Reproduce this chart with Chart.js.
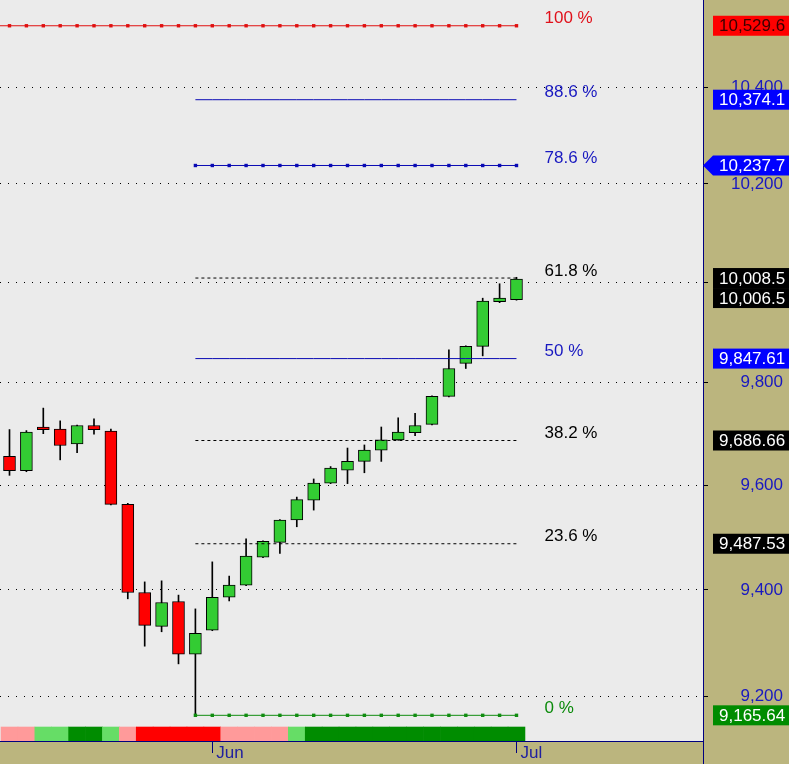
<!DOCTYPE html>
<html>
<head>
<meta charset="utf-8">
<script src="https://cdn.jsdelivr.net/npm/chart.js@4.4.0/dist/chart.umd.min.js"></script>
<style>
  html, body { margin: 0; padding: 0; background: #bbb57e; }
  canvas { display: block; }
</style>
</head>
<body>
<canvas id="myChart" width="789" height="764"></canvas>
<script>
// daily candles, one per trading day (index 12 = first day of Jun, 30 = Jul)
const opens  = [9656, 9628, 9713, 9709, 9680, 9716, 9705, 9563, 9395, 9331, 9378, 9279, 9324, 9386, 9409, 9462,
                9490, 9533, 9571, 9604, 9629, 9646, 9668, 9688, 9702, 9718, 9773, 9838, 9872, 9961, 9965];
const highs  = [9708, 9706, 9750, 9725, 9717, 9729, 9709, 9565, 9415, 9417, 9390, 9364, 9453, 9426, 9497, 9493,
                9534, 9577, 9612, 9636, 9672, 9678, 9713, 9731, 9740, 9774, 9865, 9873, 9968, 9997, 10010];
const lows   = [9619, 9626, 9700, 9649, 9663, 9699, 9562, 9383, 9294, 9321, 9261, 9165.64, 9323, 9379, 9408, 9461,
                9469, 9520, 9552, 9603, 9603, 9624, 9646, 9687, 9696, 9717, 9772, 9828, 9853, 9959, 9964];
const closes = [9628, 9703, 9708, 9677, 9716, 9708, 9563, 9395, 9333, 9376, 9279, 9318, 9386, 9409, 9464, 9492,
                9533, 9572, 9604, 9633, 9646, 9668, 9688, 9703, 9716, 9773, 9828, 9872, 9962, 9968, 10006.5];

// indicator strip under the candles
const bandState = ["pink", "pink", "lgreen", "lgreen", "dgreen", "dgreen", "lgreen", "pink", "red", "red", "red",
                   "red", "red", "pink", "pink", "pink", "pink", "lgreen", "dgreen", "dgreen", "dgreen", "dgreen",
                   "dgreen", "dgreen", "dgreen", "dgreen", "dgreen", "dgreen", "dgreen", "dgreen", "dgreen"];

const monthTicks  = [12, 30];
const monthLabels = ["Jun", "Jul"];
const yTicks = [9200, 9400, 9600, 9800, 10000, 10200, 10400];

// fibonacci retracement from the swing low (candle 11)
const swingLowIndex = 11;
const fibRatios = ["100 %", "88.6 %", "78.6 %", "61.8 %", "50 %", "38.2 %", "23.6 %", "0 %"];
const fibLevels = [10529.6, 10374.1, 10237.7, 10008.5, 9847.61, 9686.66, 9487.53, 9165.64];

const RED = "#ff0000", GREEN = "#33cc33";
const BLUE = "#0a0ab4", TXTBLUE = "#1818c0";
const bandColors = { pink: "#ff9a9a", lgreen: "#66dd66", dgreen: "#008c00", red: "#ff0000" };
const fibStyle = [
  { line: "#e01010", text: "#e0101a", dash: [], marks: true, box: "#ff0000", boxText: "#3a0000" },
  { line: BLUE, text: TXTBLUE, dash: [], marks: false, box: "#0000ff", boxText: "#ffffff" },
  { line: BLUE, text: TXTBLUE, dash: [], marks: true, box: "#0000ff", boxText: "#ffffff", arrow: true },
  { line: "#000000", text: "#000000", dash: [3, 3], marks: false, box: "#000000", boxText: "#ffffff" },
  { line: BLUE, text: TXTBLUE, dash: [], marks: false, box: "#0000ff", boxText: "#ffffff" },
  { line: "#000000", text: "#000000", dash: [3, 3], marks: false, box: "#000000", boxText: "#ffffff" },
  { line: "#000000", text: "#000000", dash: [3, 3], marks: false, box: "#000000", boxText: "#ffffff" },
  { line: "#108c10", text: "#0a8a0a", dash: [], marks: true, box: "#008c00", boxText: "#ffffff" }
];

const X_MIN = -0.562, X_MAX = 41.036;
const FONT = '"Liberation Sans", Arial, sans-serif';
const idx = opens.map((_, i) => i);

const fibDatasets = fibLevels.map((lvl, k) => {
  const st = fibStyle[k];
  const from = k === 0 ? 0 : swingLowIndex;
  const pts = idx.filter(i => i >= from).map(i => ({ x: i, y: lvl }));
  if (k === 0) pts.unshift({ x: X_MIN, y: lvl });
  return {
    type: "line",
    data: pts,
    borderColor: st.line,
    borderWidth: 1,
    borderDash: st.dash,
    pointStyle: "rect",
    pointRadius: ctx => (st.marks && ctx.raw && ctx.raw.x >= 0) ? 2.4 : 0,
    pointBackgroundColor: st.line,
    pointBorderWidth: 0,
    tension: 0,
    fill: false,
    order: 0
  };
});

const fmt = v => v.toLocaleString("en-US", {
  minimumFractionDigits: v >= 10000 ? 1 : 2, maximumFractionDigits: v >= 10000 ? 1 : 2
});

const noPad = s => { s.paddingTop = 0; s.paddingBottom = 0; s.paddingLeft = 0; s.paddingRight = 0; };

const bgPlugin = {
  id: "bg",
  beforeDraw(chart) {
    const { ctx, chartArea: a, width, height } = chart;
    ctx.save();
    ctx.fillStyle = "#bbb57e";
    ctx.fillRect(0, 0, width, height);
    ctx.fillStyle = "#ebebeb";
    ctx.fillRect(a.left, a.top, a.right - a.left, a.bottom - a.top);
    ctx.restore();
  }
};

const labelPlugin = {
  id: "labels",
  afterDraw(chart) {
    const { ctx, chartArea: a, width, height } = chart;
    const ys = chart.scales.y, xs = chart.scales.x;
    ctx.save();
    ctx.font = "17px " + FONT;
    ctx.textBaseline = "middle";

    // ratio texts right of the lines
    const tx = xs.getPixelForValue(idx[idx.length - 1]) + 28;
    fibRatios.forEach((r, k) => {
      ctx.fillStyle = fibStyle[k].text;
      ctx.fillText(r, tx, ys.getPixelForValue(fibLevels[k]) - 7);
    });

    // price boxes on the right axis
    const boxes = fibLevels.map((v, k) => ({ v, st: fibStyle[k] }));
    boxes.push({ v: closes[closes.length - 1], st: { box: "#000000", boxText: "#ffffff" } });
    boxes.sort((p, q) => q.v - p.v);
    const bx = a.right + 10, bh = 20;
    let lastBottom = -1e9;
    boxes.forEach(b => {
      let cy = ys.getPixelForValue(b.v);
      if (cy - bh / 2 < lastBottom) cy = lastBottom + bh / 2;
      lastBottom = cy + bh / 2;
      ctx.fillStyle = b.st.box;
      ctx.fillRect(bx, cy - bh / 2, width - bx, bh);
      if (b.st.arrow) {
        ctx.beginPath();
        ctx.moveTo(a.right, cy);
        ctx.lineTo(bx, cy - bh / 2);
        ctx.lineTo(bx, cy + bh / 2);
        ctx.closePath();
        ctx.fill();
      }
      ctx.fillStyle = b.st.boxText;
      ctx.fillText(fmt(b.v), bx + 6, cy + 1);
    });

    // axis line continues through the date strip
    ctx.strokeStyle = "#00007f";
    ctx.lineWidth = 1;
    ctx.beginPath();
    ctx.moveTo(Math.round(a.right) + 0.5, a.bottom);
    ctx.lineTo(Math.round(a.right) + 0.5, height);
    ctx.stroke();
    ctx.restore();
  }
};

new Chart(document.getElementById("myChart"), {
  type: "bar",
  data: {
    datasets: [
      ...fibDatasets,
      {
        label: "body",
        data: idx.map(i => ({ x: i, y: [opens[i], closes[i]] })),
        backgroundColor: idx.map(i => closes[i] >= opens[i] ? GREEN : RED),
        borderColor: "#000000",
        borderWidth: 1,
        borderSkipped: false,
        barThickness: 12,
        grouped: false,
        order: 1
      },
      {
        label: "wick",
        data: idx.map(i => ({ x: i, y: [lows[i], highs[i]] })),
        backgroundColor: "#000000",
        barThickness: 1,
        grouped: false,
        order: 2
      },
      {
        label: "band",
        yAxisID: "yb",
        data: idx.map(i => ({ x: i, y: [0, 1] })),
        backgroundColor: bandState.map(s => bandColors[s]),
        barPercentage: 1,
        categoryPercentage: 1,
        grouped: false,
        order: 3
      }
    ]
  },
  options: {
    responsive: false,
    animation: false,
    devicePixelRatio: 1,
    layout: { autoPadding: false, padding: { left: 0, top: 0, right: 6, bottom: 0 } },
    plugins: { legend: { display: false }, tooltip: { enabled: false } },
    scales: {
      x: {
        type: "linear",
        min: X_MIN,
        max: X_MAX,
        offset: false,
        afterBuildTicks: s => { s.ticks = monthTicks.map(v => ({ value: v })); },
        afterFit: s => { s.height = 23; noPad(s); },
        ticks: {
          autoSkip: false,
          maxRotation: 0,
          align: "start",
          labelOffset: 4,
          padding: -10,
          color: "#2020a0",
          font: { family: FONT, size: 17 },
          callback: (v, i) => monthLabels[i]
        },
        grid: { offset: false, drawOnChartArea: false, tickLength: 12, tickColor: "#00007f", tickBorderDash: [] },
        border: { color: "#00007f", width: 1 }
      },
      y: {
        type: "logarithmic",
        position: "right",
        min: 9118.4,
        max: 10584.3,
        afterBuildTicks: s => { s.ticks = yTicks.map(v => ({ value: v })); },
        afterFit: s => { s.width = 80; noPad(s); },
        ticks: {
          autoSkip: false,
          crossAlign: "far",
          color: TXTBLUE,
          font: { family: FONT, size: 17 },
          callback: v => Number(v).toLocaleString("en-US")
        },
        grid: { color: "#000000", lineWidth: 1, tickLength: 5, tickColor: "#000000", tickBorderDash: [] },
        border: { display: true, color: "#00007f", width: 1, dash: [1, 7] }
      },
      yb: { type: "linear", display: false, min: 0, max: 53 }
    }
  },
  plugins: [bgPlugin, labelPlugin]
});
</script>
</body>
</html>
